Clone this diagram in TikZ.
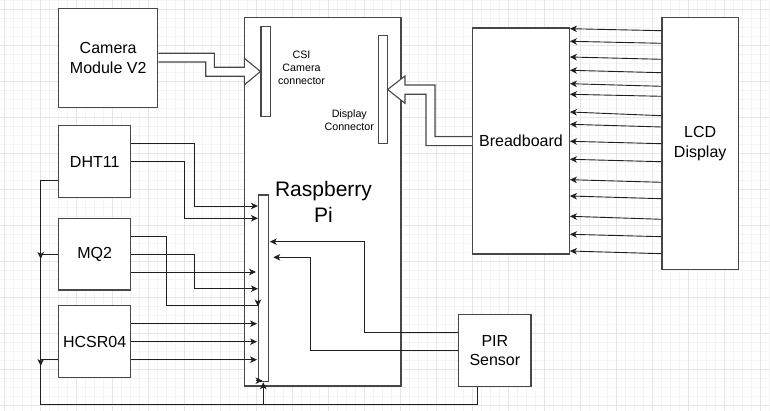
\documentclass[tikz,border=0pt]{standalone}
\usepackage{fontspec}
\setmainfont{Liberation Sans}
\usetikzlibrary{arrows.meta,calc}
\definecolor{gminorc}{HTML}{F4F4F4}
\definecolor{gmajorc}{HTML}{E6E6E6}
\begin{document}
\begin{tikzpicture}[x=1pt,y=-1pt,
  gminor/.style={draw=gminorc,line width=0.8pt},
  gmajor/.style={draw=gmajorc,line width=0.9pt},
  box/.style={draw=black!72,line width=1.2pt,fill=white,inner sep=0pt,align=center,
    font=\fontsize{16}{19.2}\selectfont},
  pinbox/.style={draw=black!72,line width=1.1pt,fill=white,inner sep=0pt},
  lbl/.style={inner sep=0pt,align=center},
  conn/.style={draw=black!88,line width=0.9pt},
  arr/.style={conn,-{Stealth[length=7pt,width=6.5pt,inset=2pt]}},
  flex/.style={draw=black!72,line width=1.1pt,fill=white,line join=miter}]
\useasboundingbox (0,0) rectangle (770,411);
% background grid
\foreach \i in {0,...,85} \draw[gminor] ({4+9*\i},0) -- ++(0,411);
\foreach \j in {0,...,45} \draw[gminor] (0,{9*\j}) -- ++(770,0);
\foreach \i in {0,...,21} \draw[gmajor] ({4+36*\i},0) -- ++(0,411);
\foreach \j in {0,...,11} \draw[gmajor] (0,{9+36*\j}) -- ++(770,0);

% boxes
\node[box,minimum width=156.7pt,minimum height=368.7pt] (pi) at (322.7,201.7) {};
\node[pinbox,minimum width=9.5pt,minimum height=90.5pt] (csi) at (265.75,71.45) {};
\node[pinbox,minimum width=8.7pt,minimum height=108.4pt] (disp) at (382.7,89.5) {};
\node[pinbox,minimum width=9.8pt,minimum height=186.7pt] (hdr) at (263.4,288.35) {};
\node[box,minimum width=99pt,minimum height=99.4pt] (cam) at (108.2,58) {Camera\\Module V2};
\node[box,minimum width=72pt,minimum height=71.6pt] (dht) at (94.7,161.5) {DHT11};
\node[box,minimum width=72pt,minimum height=71.7pt] (mq) at (94.7,254.2) {MQ2};
\node[box,minimum width=72pt,minimum height=71.6pt] (hc) at (94.7,341.5) {HCSR04};
\node[box,minimum width=96.6pt,minimum height=226pt] (bb) at (521,141) {Breadboard};
\node[box,minimum width=76.3pt,minimum height=251.6pt] (lcd) at (700.2,143.5) {LCD\\Display};
\node[box,minimum width=72.3pt,minimum height=72.4pt] (pir) at (494.85,350.5) {PIR\\Sensor};

% labels inside the Pi
\node[lbl,font=\fontsize{10.7}{12.8}\selectfont] (csitxt) at (301.5,67.8) {CSI\\Camera\\connector};
\node[lbl,font=\fontsize{10.7}{12.8}\selectfont] (disptxt) at (349.3,120) {Display\\Connector};
\node[lbl,font=\fontsize{21}{26}\selectfont] (pitxt) at (323.5,202) {Raspberry\\Pi};

% flex arrows
\draw[flex] (cam.east |- 0,53.3) -- (214.3,53.3) -- (214.3,67.3) -- (244.3,67.3) -- (244.3,58.3)
  -- (csi.west) -- (244.3,85) -- (244.3,76.3) -- (205.7,76.3) -- (205.7,62) -- (cam.east |- 0,62);
\draw[flex] (bb.west |- 0,136.7) -- (435,136.7) -- (435,85) -- (405,85) -- (405,76)
  -- (disp.east) -- (405,103.3) -- (405,94.3) -- (426,94.3) -- (426,145.7) -- (bb.west |- 0,145.7);

% LCD -> Breadboard
\foreach \s/\t in {30.7/28.7,43.3/41.3,59.3/57,72.7/70.3,86.3/83.7,96.3/94.3,115.7/112,127/124.3,
  143.7/141.3,161.7/159.3,182.3/179.7,198.7/196,219.3/216.3,236.7/234.3,253.7/251}
  \draw[arr] (lcd.west |- 0,\s) -- (bb.east |- 0,\t);

% DHT11
\draw[arr] (dht.east |- 0,143.7) -| (194.3,206) -- (hdr.west |- 0,206);
\draw[arr] (dht.east |- 0,161.7) -| (184.3,218.3) -- (hdr.west |- 0,218.3);
% MQ2
\draw[conn] (mq.east |- 0,236) -| (166.7,305.3) -- (hdr.west |- 0,305.3);
\draw[arr] (hdr.west |- 0,299.5) -- (hdr.west |- 0,306.5);
\draw[arr] (mq.east |- 0,254) -| (194.7,288.7) -- (hdr.west |- 0,288.7);
\draw[arr] (mq.east |- 0,272) -- (256,272);
% HCSR04
\draw[arr] (hc.east |- 0,323.7) -- (257,323.7);
\draw[arr] (hc.east |- 0,341.7) -- (257,341.7);
\draw[arr] (hc.east |- 0,359.7) -- (257,359.7);

% left bus
\coordinate (bl) at (40.7,404.3);
\coordinate (bm) at (263.3,404.3);
\draw[arr] (dht.west |- 0,180) -| (bl) -- (bm) -- (hdr.south -| bm);
\draw[conn] (mq.west |- 0,254.3) -- (40.7,254.3);
\draw[arr] (40.7,251.5) -- (40.7,259);
\draw[conn] (hc.west |- 0,359.3) -- (40.7,359.3);
\draw[arr] (40.7,358.5) -- (40.7,366);
\draw[arr] (255.5,380.7) -- (262.5,380.7);

% PIR
\draw[conn] (pir.south -| 477.7,0) -- (477.7,404.3) -- (bm);
\draw[arr] (pir.west |- 0,332.3) -| (364,241.7) -- (269.8,241.7);
\draw[arr] (pir.west |- 0,350.3) -| (310.7,257.3) -- (273.3,257.3);
\end{tikzpicture}
\end{document}
